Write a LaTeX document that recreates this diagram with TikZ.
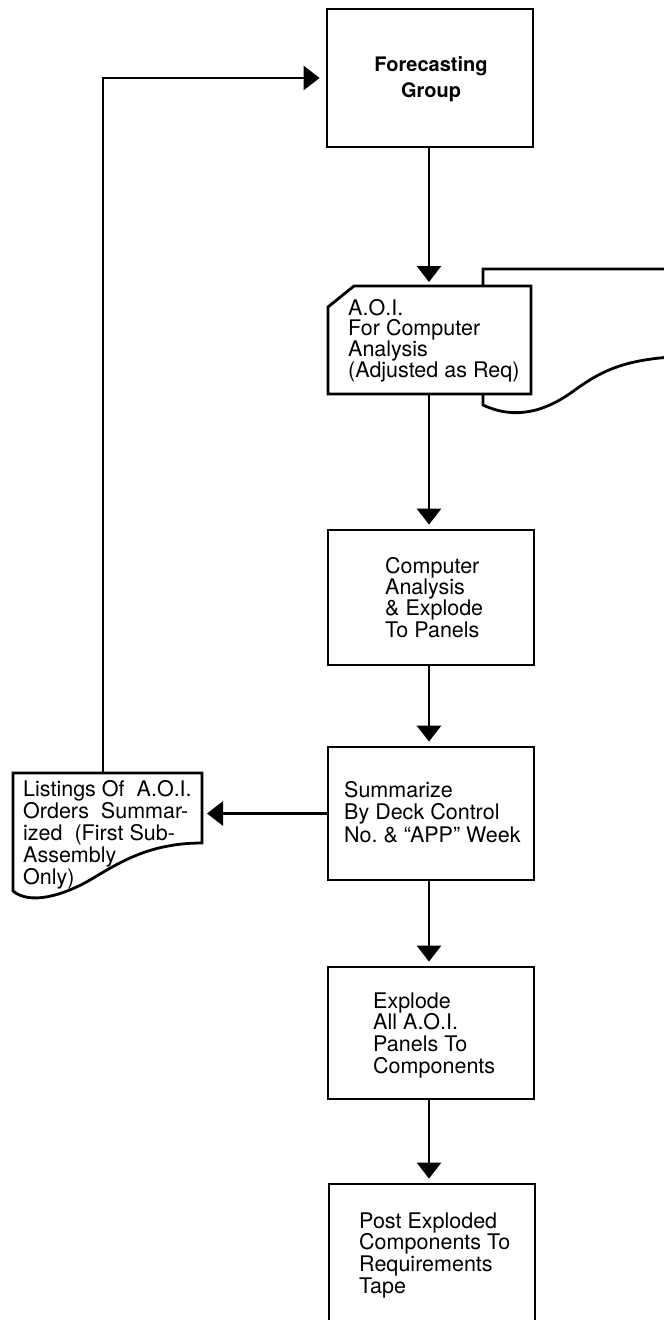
\documentclass[tikz,border=0pt]{standalone}
\usepackage{fontspec}
\setmainfont{TeX Gyre Heros}
\usetikzlibrary{arrows.meta,calc}
\tikzset{
  ln/.style={line width=2.8pt, line join=miter},
  box/.style={draw, ln, fill=white, inner sep=0pt, minimum width=206pt},
  ghost/.style={inner sep=0pt, outer sep=0pt},
  lbl/.style={anchor=north west, inner sep=0pt, align=left},
  arr/.style={ln, -{Triangle[width=24pt,length=16pt]}, shorten >=4pt},
}
\newcommand{\txt}[1]{\fontsize{21.5}{#1}\selectfont}
\begin{document}
\begin{tikzpicture}[x=1pt,y=-1pt]
\useasboundingbox (0,0) rectangle (664,1320);
\clip (0,0) rectangle (664,1320);
\coordinate (ax) at (429,0);
\coordinate (rx) at (103,0);

% boxes
\node[box, minimum height=138pt] (fg) at (430,78) {};
\node[box, minimum height=135pt] (cmp) at (431,597.5) {};
\node[box, minimum height=133pt] (sum) at (431,813.5) {};
\node[box, minimum height=132pt] (exp) at (431,1033) {};
\node[box, minimum height=170pt] (post) at (432,1269) {};

% stacked document behind A.O.I.
\draw[ln, fill=white] (483,405) -- (483,269) -- (690,269) -- (690,356)
  .. controls (630,358) and (605,368) .. (575,390)
  .. controls (545,412) and (515,420) .. (483,405) -- cycle;

% A.O.I. card
\node[ghost, minimum width=203pt, minimum height=108pt] (aoi) at (429.5,340) {};
\draw[ln, fill=white] ($(aoi.north west)+(0,21)$) -- ($(aoi.north west)+(26,0)$)
  -- (aoi.north east) -- (aoi.south east) -- (aoi.south west) -- cycle;

% listing document
\node[ghost, minimum width=189pt, minimum height=125pt] (lst) at (107.5,835.5) {};
\draw[ln, fill=white] (lst.north west) -- (lst.north east) -- (202,843)
  .. controls (150,843) and (120,862) .. (90,880)
  .. controls (62,896) and (30,905) .. (13,891) -- cycle;

% texts
\node[anchor=north, inner sep=0pt, align=center, font=\fontsize{20}{26}\selectfont\bfseries]
  (fgt) at (431,56) {\rule{0pt}{15pt}Forecasting\\Group};
\node[lbl, font=\txt{20.7}] (aoit) at (348,299)
  {\rule{0pt}{16pt}A.O.I.\\For Computer\\Analysis\\(Adjusted as Req)};
\node[lbl, font=\txt{21.3}] (cmpt) at (385,557)
  {\rule{0pt}{16pt}Computer\\Analysis\\\& Explode\\To Panels};
\node[lbl, font=\txt{22.5}] (sumt) at (344,781)
  {\rule{0pt}{16pt}Summarize\\By Deck Control\\No.\ \& “APP” Week};
\node[lbl, font=\txt{21.7}] (expt) at (373,992)
  {\rule{0pt}{16pt}Explode\\All A.O.I.\\Panels To\\Components};
\node[lbl, font=\txt{21.7}] (postt) at (359,1212)
  {\rule{0pt}{16pt}Post Exploded\\Components To\\Requirements\\Tape};
\node[lbl, font=\txt{22}] (lstt) at (23,780)
  {\rule{0pt}{16pt}Listings Of~~A.O.I.\\Orders~~Summar-\\ized~~(First Sub-\\Assembly\\Only)};

% connectors
\draw[arr] (fg.south -| ax) -- (aoi.north -| ax);
\draw[arr] (aoi.south -| ax) -- (cmp.north -| ax);
\draw[arr] (cmp.south -| ax) -- (sum.north -| ax);
\draw[arr] (sum.south -| ax) -- (exp.north -| ax);
\draw[arr] (exp.south -| ax) -- (post.north -| ax);
\draw[arr, shorten >=5pt] (sum.west) -- (lst.east |- sum.west);
\draw[arr, shorten >=6pt] (lst.north -| rx) |- (fg.west);
\end{tikzpicture}
\end{document}
